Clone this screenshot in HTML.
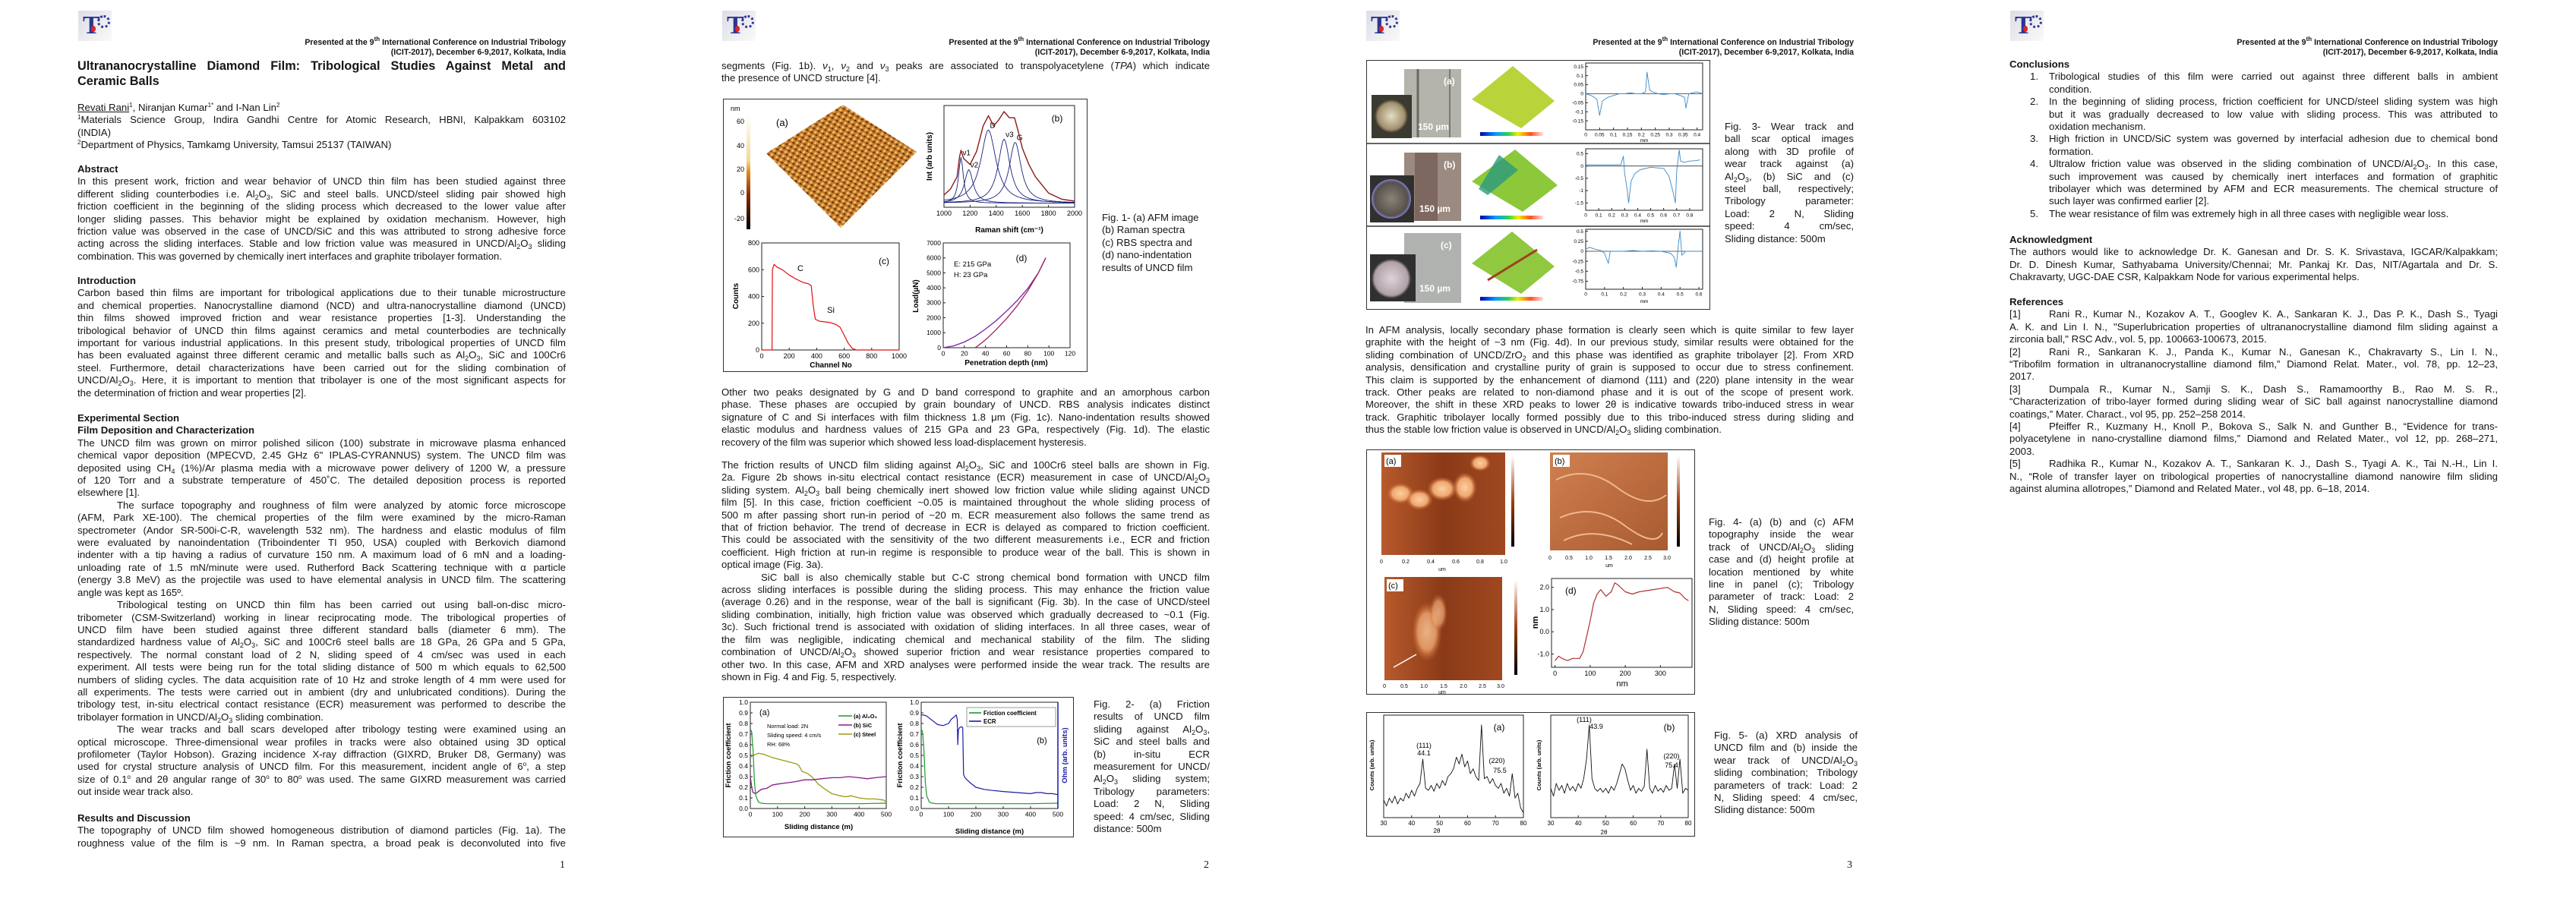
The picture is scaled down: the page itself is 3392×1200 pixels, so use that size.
<!DOCTYPE html>
<html><head><meta charset="utf-8">
<style>
html,body{margin:0;padding:0;background:#fff;}
body{width:3392px;height:1200px;position:relative;overflow:hidden;font-family:"Liberation Sans",Arial,sans-serif;color:#151515;}
.b{position:absolute;font-size:13.2px;line-height:16.4px;}
.l{display:block;white-space:nowrap;text-align:justify;text-align-last:justify;}
.e{text-align-last:left;}
.in{padding-left:52px;}
.h{font-weight:bold;}
.s{font-size:9px;line-height:0;vertical-align:-3px;}
.u{font-size:8px;line-height:0;vertical-align:5px;}
.hdr{position:absolute;width:380px;text-align:right;font-weight:bold;font-size:10.6px;line-height:13px;}
.title{font-weight:bold;font-size:16.3px;line-height:20px;}
.logo{position:absolute;width:44px;height:40px;background:linear-gradient(135deg,#dcdde6,#fafafa);}
.logo .t{position:absolute;left:6px;top:2px;font:bold 34px "Liberation Serif",serif;color:#2b3592;line-height:36px;}
.logo .g{position:absolute;left:25px;top:6px;width:11px;height:11px;border:3px dotted #2b3592;border-radius:50%;}
.logo .d{position:absolute;left:17px;top:20px;width:6px;height:8px;background:#d8262c;border-radius:50% 50% 50% 50%;}
.pn{position:absolute;font:14px "Liberation Serif",serif;}
svg{position:absolute;overflow:visible;}
svg text{font-family:"Liberation Sans",Arial,sans-serif;}
.fbox{position:absolute;border:1.3px solid #333;box-sizing:border-box;}
.ri{display:flex;white-space:nowrap;}
.ri span.n{width:52px;flex:none;}
.ri span.x{flex:1;text-align:justify;text-align-last:justify;}
</style></head>
<body>

<!-- ================= PAGE 1 ================= -->
<div>
<div class="logo" style="left:103px;top:14px"><span class="t">T</span><span class="g"></span><span class="d"></span></div>
<div class="hdr" style="left:365px;top:50px">Presented at the 9<span class="u">th</span> International Conference on Industrial Tribology<br>(ICIT-2017), December 6-9,2017, Kolkata, India</div>
<div class="b title" style="left:102px;top:77px;width:643px"><span class="l">Ultrananocrystalline Diamond Film: Tribological Studies Against Metal and</span><span class="l e">Ceramic Balls</span></div>
<div class="b" style="left:102px;top:134px;width:643px">
<span class="l e"><u>Revati Rani</u><span class="u">1</span>, Niranjan Kumar<span class="u">1*</span> and I-Nan Lin<span class="u">2</span></span>
<span class="l"><span class="u">1</span>Materials Science Group, Indira Gandhi Centre for Atomic Research, HBNI, Kalpakkam 603102</span>
<span class="l e">(INDIA)</span>
<span class="l e"><span class="u">2</span>Department of Physics, Tamkamg University, Tamsui 25137 (TAIWAN)</span></div>
<div class="b" style="left:102px;top:215px;width:643px">
<span class="l e h">Abstract</span>
<span class="l">In this present work, friction and wear behavior of UNCD thin film has been studied against three</span>
<span class="l">different sliding counterbodies i.e. Al<span class="s">2</span>O<span class="s">3</span>, SiC and steel balls. UNCD/steel sliding pair showed high</span>
<span class="l">friction coefficient in the beginning of the sliding process which decreased to the lower value after</span>
<span class="l">longer sliding passes. This behavior might be explained by oxidation mechanism. However, high</span>
<span class="l">friction value was observed in the case of UNCD/SiC and this was attributed to strong adhesive force</span>
<span class="l">acting across the sliding interfaces. Stable and low friction value was measured in UNCD/Al<span class="s">2</span>O<span class="s">3</span> sliding</span>
<span class="l e">combination. This was governed by chemically inert interfaces and graphite tribolayer formation.</span></div>
<div class="b" style="left:102px;top:362px;width:643px">
<span class="l e h">Introduction</span>
<span class="l">Carbon based thin films are important for tribological applications due to their tunable microstructure</span>
<span class="l">and chemical properties. Nanocrystalline diamond (NCD) and ultra-nanocrystalline diamond (UNCD)</span>
<span class="l">thin films showed improved friction and wear resistance properties [1-3]. Understanding the</span>
<span class="l">tribological behavior of UNCD thin films against ceramics and metal counterbodies are technically</span>
<span class="l">important for various industrial applications. In this present study, tribological properties of UNCD film</span>
<span class="l">has been evaluated against three different ceramic and metallic balls such as Al<span class="s">2</span>O<span class="s">3</span>, SiC and 100Cr6</span>
<span class="l">steel. Furthermore, detail characterizations have been carried out for the sliding combination of</span>
<span class="l">UNCD/Al<span class="s">2</span>O<span class="s">3</span>. Here, it is important to mention that tribolayer is one of the most significant aspects for</span>
<span class="l e">the determination of friction and wear properties [2].</span></div>
<div class="b" style="left:102px;top:543px;width:643px">
<span class="l e h">Experimental Section</span>
<span class="l e h">Film Deposition and Characterization</span>
<span class="l">The UNCD film was grown on mirror polished silicon (100) substrate in microwave plasma enhanced</span>
<span class="l">chemical vapor deposition (MPECVD, 2.45 GHz 6" IPLAS-CYRANNUS) system. The UNCD film was</span>
<span class="l">deposited using CH<span class="s">4</span> (1%)/Ar plasma media with a microwave power delivery of 1200 W, a pressure</span>
<span class="l">of 120 Torr and a substrate temperature of 450˚C. The detailed deposition process is reported</span>
<span class="l e">elsewhere [1].</span>
<span class="l in">The surface topography and roughness of film were analyzed by atomic force microscope</span>
<span class="l">(AFM, Park XE-100). The chemical properties of the film were examined by the micro-Raman</span>
<span class="l">spectrometer (Andor SR-500i-C-R, wavelength 532 nm). The hardness and elastic modulus of film</span>
<span class="l">were evaluated by nanoindentation (Triboindenter TI 950, USA) coupled with Berkovich diamond</span>
<span class="l">indenter with a tip having a radius of curvature 150 nm. A maximum load of 6 mN and a loading-</span>
<span class="l">unloading rate of 1.5 mN/minute were used. Rutherford Back Scattering technique with α particle</span>
<span class="l">(energy 3.8 MeV) as the projectile was used to have elemental analysis in UNCD film. The scattering</span>
<span class="l e">angle was kept as 165º.</span>
<span class="l in">Tribological testing on UNCD thin film has been carried out using ball-on-disc micro-</span>
<span class="l">tribometer (CSM-Switzerland) working in linear reciprocating mode. The tribological properties of</span>
<span class="l">UNCD film have been studied against three different standard balls (diameter 6 mm). The</span>
<span class="l">standardized hardness value of Al<span class="s">2</span>O<span class="s">3</span>, SiC and 100Cr6 steel balls are 18 GPa, 26 GPa and 5 GPa,</span>
<span class="l">respectively. The normal constant load of 2 N, sliding speed of 4 cm/sec was used in each</span>
<span class="l">experiment. All tests were being run for the total sliding distance of 500 m which equals to 62,500</span>
<span class="l">numbers of sliding cycles. The data acquisition rate of 10 Hz and stroke length of 4 mm were used for</span>
<span class="l">all experiments. The tests were carried out in ambient (dry and unlubricated conditions). During the</span>
<span class="l">tribology test, in-situ electrical contact resistance (ECR) measurement was performed to describe the</span>
<span class="l e">tribolayer formation in UNCD/Al<span class="s">2</span>O<span class="s">3</span> sliding combination.</span>
<span class="l in">The wear tracks and ball scars developed after tribology testing were examined using an</span>
<span class="l">optical microscope. Three-dimensional wear profiles in tracks were also obtained using 3D optical</span>
<span class="l">profilometer (Taylor Hobson). Grazing incidence X-ray diffraction (GIXRD, Bruker D8, Germany) was</span>
<span class="l">used for crystal structure analysis of UNCD film. For this measurement, incident angle of 6<span class="u">o</span>, a step</span>
<span class="l">size of 0.1<span class="u">o</span> and 2θ angular range of 30<span class="u">o</span> to 80<span class="u">o</span> was used. The same GIXRD measurement was carried</span>
<span class="l e">out inside wear track also.</span></div>
<div class="b" style="left:102px;top:1070px;width:643px">
<span class="l e h">Results and Discussion</span>
<span class="l">The topography of UNCD film showed homogeneous distribution of diamond particles (Fig. 1a). The</span>
<span class="l">roughness value of the film is ~9 nm. In Raman spectra, a broad peak is deconvoluted into five</span></div>
<div class="pn" style="left:737px;top:1132px">1</div>
</div>

<!-- ================= PAGE 2 ================= -->
<div>
<div class="logo" style="left:951px;top:14px"><span class="t">T</span><span class="g"></span><span class="d"></span></div>
<div class="hdr" style="left:1213px;top:50px">Presented at the 9<span class="u">th</span> International Conference on Industrial Tribology<br>(ICIT-2017), December 6-9,2017, Kolkata, India</div>
<div class="b" style="left:950px;top:79px;width:643px">
<span class="l">segments (Fig. 1b). <i>ν</i><span class="s">1</span>, <i>ν</i><span class="s">2</span> and <i>ν</i><span class="s">3</span> peaks are associated to transpolyacetylene (<i>TPA</i>) which indicate</span>
<span class="l e">the presence of UNCD structure [4].</span></div>
<div class="fbox" style="left:952px;top:130px;width:480px;height:360px"></div>
<svg id="fig1" style="left:952px;top:130px" width="480" height="360">
 <defs>
  <linearGradient id="afmbar" x1="0" y1="1" x2="0" y2="0"><stop offset="0" stop-color="#000"/><stop offset="0.3" stop-color="#8a2a00"/><stop offset="0.5" stop-color="#e08a20"/><stop offset="0.6" stop-color="#f5d890"/><stop offset="1" stop-color="#fff"/></linearGradient>
  <pattern id="afmtex" width="7" height="6" patternUnits="userSpaceOnUse" patternTransform="rotate(30)"><rect width="7" height="6" fill="#c27a2a"/><rect width="3" height="3" fill="#f0c070"/><rect x="3" y="3" width="3" height="2" fill="#6a3008"/></pattern>
 </defs>
 <text x="10" y="16" font-size="9">nm</text>
 <rect x="31" y="22" width="5" height="150" fill="url(#afmbar)"/>
 <g font-size="9" text-anchor="end"><text x="28" y="33">60</text><text x="28" y="65">40</text><text x="28" y="96">20</text><text x="28" y="127">0</text><text x="28" y="161">-20</text></g>
 <polygon points="158,8 255,70 155,170 57,72" fill="url(#afmtex)"/>
 <text x="70" y="36" font-size="13">(a)</text>
</svg>
<div class="b" style="left:1451px;top:279px;width:145px">
<span class="l e">Fig. 1- (a) AFM image</span><span class="l e">(b) Raman spectra</span><span class="l e">(c) RBS spectra and</span><span class="l e">(d) nano-indentation</span><span class="l e">results of UNCD film</span></div>
<div class="b" style="left:950px;top:509px;width:643px">
<span class="l">Other two peaks designated by G and D band correspond to graphite and an amorphous carbon</span>
<span class="l">phase. These phases are occupied by grain boundary of UNCD. RBS analysis indicates distinct</span>
<span class="l">signature of C and Si interfaces with film thickness 1.8 μm (Fig. 1c). Nano-indentation results showed</span>
<span class="l">elastic modulus and hardness values of 215 GPa and 23 GPa, respectively (Fig. 1d). The elastic</span>
<span class="l e">recovery of the film was superior which showed less load-displacement hysteresis.</span></div>
<div class="b" style="left:950px;top:605px;width:643px">
<span class="l">The friction results of UNCD film sliding against Al<span class="s">2</span>O<span class="s">3</span>, SiC and 100Cr6 steel balls are shown in Fig.</span>
<span class="l">2a. Figure 2b shows in-situ electrical contact resistance (ECR) measurement in case of UNCD/Al<span class="s">2</span>O<span class="s">3</span></span>
<span class="l">sliding system. Al<span class="s">2</span>O<span class="s">3</span> ball being chemically inert showed low friction value while sliding against UNCD</span>
<span class="l">film [5]. In this case, friction coefficient ~0.05 is maintained throughout the whole sliding process of</span>
<span class="l">500 m after passing short run-in period of ~20 m. ECR measurement also follows the same trend as</span>
<span class="l">that of friction behavior. The trend of decrease in ECR is delayed as compared to friction coefficient.</span>
<span class="l">This could be associated with the sensitivity of the two different measurements i.e., ECR and friction</span>
<span class="l">coefficient. High friction at run-in regime is responsible to produce wear of the ball. This is shown in</span>
<span class="l e">optical image (Fig. 3a).</span>
<span class="l in">SiC ball is also chemically stable but C-C strong chemical bond formation with UNCD film</span>
<span class="l">across sliding interfaces is possible during the sliding process. This may enhance the friction value</span>
<span class="l">(average 0.26) and in the response, wear of the ball is significant (Fig. 3b). In the case of UNCD/steel</span>
<span class="l">sliding combination, initially, high friction value was observed which gradually decreased to ~0.1 (Fig.</span>
<span class="l">3c). Such frictional trend is associated with oxidation of sliding interfaces. In all three cases, wear of</span>
<span class="l">the film was negligible, indicating chemical and mechanical stability of the film. The sliding</span>
<span class="l">combination of UNCD/Al<span class="s">2</span>O<span class="s">3</span> showed superior friction and wear resistance properties compared to</span>
<span class="l">other two. In this case, AFM and XRD analyses were performed inside the wear track. The results are</span>
<span class="l e">shown in Fig. 4 and Fig. 5, respectively.</span></div>
<div class="fbox" style="left:952px;top:918px;width:462px;height:185px"></div>
<svg id="fig2" style="left:952px;top:918px" width="462" height="185"></svg>
<div class="b" style="left:1440px;top:920px;width:153px">
<span class="l">Fig. 2- (a) Friction</span><span class="l">results of UNCD film</span><span class="l">sliding against Al<span class="s">2</span>O<span class="s">3</span>,</span><span class="l">SiC and steel balls and</span><span class="l">(b) in-situ ECR</span><span class="l">measurement for UNCD/</span><span class="l">Al<span class="s">2</span>O<span class="s">3</span> sliding system;</span><span class="l">Tribology parameters:</span><span class="l">Load: 2 N, Sliding</span><span class="l">speed: 4 cm/sec, Sliding</span><span class="l e">distance: 500m</span></div>
<div class="pn" style="left:1585px;top:1132px">2</div>
</div>

<!-- ================= PAGE 3 ================= -->
<div>
<div class="logo" style="left:1799px;top:14px"><span class="t">T</span><span class="g"></span><span class="d"></span></div>
<div class="hdr" style="left:2061px;top:50px">Presented at the 9<span class="u">th</span> International Conference on Industrial Tribology<br>(ICIT-2017), December 6-9,2017, Kolkata, India</div>
<div class="fbox" style="left:1799px;top:79px;width:453px;height:329px"></div>
<svg id="fig3" style="left:1799px;top:79px" width="453" height="329">
 <defs>
  <linearGradient id="rainbow" x1="0" x2="1"><stop offset="0" stop-color="#0000b0"/><stop offset="0.25" stop-color="#00a0ff"/><stop offset="0.45" stop-color="#30d050"/><stop offset="0.6" stop-color="#f0f000"/><stop offset="0.8" stop-color="#ff5020"/><stop offset="1" stop-color="#ffe0e0"/></linearGradient>
  <radialGradient id="balla"><stop offset="0" stop-color="#e8dcc0"/><stop offset="0.8" stop-color="#a09070"/><stop offset="1" stop-color="#403828"/></radialGradient>
  <radialGradient id="ballb"><stop offset="0" stop-color="#8a8478"/><stop offset="0.85" stop-color="#55504a"/><stop offset="1" stop-color="#8080d0"/></radialGradient>
  <radialGradient id="ballc"><stop offset="0" stop-color="#e0d4d8"/><stop offset="0.85" stop-color="#b0a0a8"/><stop offset="1" stop-color="#303030"/></radialGradient>
 </defs>
 <g>
  <rect x="50" y="12" width="75" height="90" fill="#b4b3ac"/><line x1="68" y1="12" x2="68" y2="102" stroke="#6a6a60" stroke-width="3"/><line x1="110" y1="12" x2="110" y2="102" stroke="#7a7a70" stroke-width="2"/>
  <rect x="7" y="46" width="53" height="57" fill="#3a3a30"/><circle cx="33" cy="74" r="22" fill="url(#balla)"/>
  <text x="102" y="32" font-size="12" font-weight="bold" fill="#fff">(a)</text><text x="68" y="92" font-size="12" font-weight="bold" fill="#fff">150 µm</text>
  <polygon points="193,8 248,54 204,90 139,52" fill="#b8d43a"/>
  <rect x="150" y="95" width="83" height="5" fill="url(#rainbow)"/>
 </g>
 <line x1="0" y1="110" x2="453" y2="110" stroke="#333" stroke-width="1.5"/>
 <g>
  <rect x="50" y="122" width="75" height="90" fill="#9a8a80"/><rect x="64" y="122" width="30" height="90" fill="#6a5048" opacity="0.6"/>
  <rect x="5" y="152" width="58" height="62" fill="#303030"/><circle cx="33" cy="183" r="26" fill="url(#ballb)"/>
  <text x="102" y="142" font-size="12" font-weight="bold" fill="#fff">(b)</text><text x="70" y="200" font-size="12" font-weight="bold" fill="#fff">150 µm</text>
  <polygon points="196,118 252,165 206,200 139,160" fill="#8cc83a"/><polygon points="175,125 200,145 160,178 148,170" fill="#2a9a80" opacity="0.8"/>
  <rect x="150" y="205" width="83" height="5" fill="url(#rainbow)"/>
 </g>
 <line x1="0" y1="219" x2="453" y2="219" stroke="#333" stroke-width="1.5"/>
 <g>
  <rect x="50" y="228" width="75" height="92" fill="#b0b2b0"/>
  <rect x="5" y="256" width="60" height="62" fill="#303030"/><circle cx="33" cy="288" r="26" fill="url(#ballc)"/>
  <text x="98" y="248" font-size="12" font-weight="bold" fill="#fff">(c)</text><text x="70" y="305" font-size="12" font-weight="bold" fill="#fff">150 µm</text>
  <polygon points="192,226 248,272 204,308 139,268" fill="#90c840"/><line x1="160" y1="290" x2="225" y2="250" stroke="#a04020" stroke-width="3"/>
  <rect x="150" y="312" width="83" height="5" fill="url(#rainbow)"/>
 </g>
</svg>
<div class="b" style="left:2271px;top:159px;width:170px">
<span class="l">Fig. 3- Wear track and</span><span class="l">ball scar optical images</span><span class="l">along with 3D profile of</span><span class="l">wear track against (a)</span><span class="l">Al<span class="s">2</span>O<span class="s">3</span>, (b) SiC and (c)</span><span class="l">steel ball, respectively;</span><span class="l">Tribology parameter:</span><span class="l">Load: 2 N, Sliding</span><span class="l">speed: 4 cm/sec,</span><span class="l e">Sliding distance: 500m</span></div>
<div class="b" style="left:1798px;top:427px;width:643px">
<span class="l">In AFM analysis, locally secondary phase formation is clearly seen which is quite similar to few layer</span>
<span class="l">graphite with the height of ~3 nm (Fig. 4d). In our previous study, similar results were obtained for the</span>
<span class="l">sliding combination of UNCD/ZrO<span class="s">2</span> and this phase was identified as graphite tribolayer [2]. From XRD</span>
<span class="l">analysis, densification and crystalline purity of grain is supposed to occur due to stress confinement.</span>
<span class="l">This claim is supported by the enhancement of diamond (111) and (220) plane intensity in the wear</span>
<span class="l">track. Other peaks are related to non-diamond phase and it is out of the scope of present work.</span>
<span class="l">Moreover, the shift in these XRD peaks to lower 2θ is indicative towards tribo-induced stress in wear</span>
<span class="l">track. Graphitic tribolayer locally formed possibly due to this tribo-induced stress during sliding and</span>
<span class="l e">thus the stable low friction value is observed in UNCD/Al<span class="s">2</span>O<span class="s">3</span> sliding combination.</span></div>
<div class="fbox" style="left:1799px;top:592px;width:433px;height:323px"></div>
<svg id="fig4" style="left:1799px;top:592px" width="433" height="323">
 <defs>
  <radialGradient id="blob"><stop offset="0" stop-color="#fad0a0"/><stop offset="0.6" stop-color="#f0a870"/><stop offset="1" stop-color="#c06030" stop-opacity="0"/></radialGradient>
  <linearGradient id="brownbar" x1="0" y1="1" x2="0" y2="0"><stop offset="0" stop-color="#000"/><stop offset="0.5" stop-color="#a04010"/><stop offset="1" stop-color="#fff"/></linearGradient>
  <linearGradient id="brn1" x1="0" x2="1"><stop offset="0" stop-color="#b85a2c"/><stop offset="0.5" stop-color="#8a3a18"/><stop offset="1" stop-color="#a04820"/></linearGradient>
  <linearGradient id="brn2" x1="0" x2="1" y1="0" y2="1"><stop offset="0" stop-color="#d08050"/><stop offset="1" stop-color="#a85a30"/></linearGradient>
 </defs>
 <g>
  <rect x="20" y="4" width="163" height="135" fill="url(#brn1)"/>
  <ellipse cx="45" cy="58" rx="18" ry="14" fill="url(#blob)"/><ellipse cx="70" cy="66" rx="18" ry="14" fill="url(#blob)"/><ellipse cx="100" cy="52" rx="20" ry="16" fill="url(#blob)"/><ellipse cx="130" cy="50" rx="16" ry="20" fill="url(#blob)"/><ellipse cx="150" cy="18" rx="14" ry="11" fill="url(#blob)"/>
  <rect x="24" y="7" width="22" height="16" fill="#fff"/><text x="26" y="19" font-size="11">(a)</text>
  <rect x="191" y="8" width="4" height="120" fill="url(#brownbar)"/>
  <g font-size="7" text-anchor="middle"><text x="20" y="150">0</text><text x="52" y="150">0.2</text><text x="85" y="150">0.4</text><text x="118" y="150">0.6</text><text x="150" y="150">0.8</text><text x="181" y="150">1.0</text><text x="100" y="160">um</text></g>
 </g>
 <g>
  <rect x="242" y="4" width="155" height="129" fill="url(#brn2)"/>
  <path d="M250 40 Q290 20 330 50 T395 60 M255 90 Q300 70 340 100 T390 110 M260 120 Q300 100 350 125" stroke="#f0b890" stroke-width="2" fill="none"/>
  <rect x="246" y="7" width="22" height="16" fill="#fff"/><text x="248" y="19" font-size="11">(b)</text>
  <rect x="409" y="8" width="4" height="120" fill="url(#brownbar)"/>
  <g font-size="7" text-anchor="middle"><text x="242" y="145">0</text><text x="267" y="145">0.5</text><text x="293" y="145">1.0</text><text x="319" y="145">1.5</text><text x="345" y="145">2.0</text><text x="371" y="145">2.5</text><text x="396" y="145">3.0</text><text x="320" y="155">um</text></g>
 </g>
 <g>
  <rect x="24" y="168" width="155" height="136" fill="url(#brn1)"/>
  <ellipse cx="80" cy="240" rx="20" ry="40" fill="url(#blob)" opacity="0.8"/><ellipse cx="95" cy="215" rx="12" ry="25" fill="url(#blob)" opacity="0.7"/>
  <line x1="36" y1="287" x2="66" y2="270" stroke="#fff" stroke-width="1.5"/>
  <rect x="27" y="171" width="22" height="16" fill="#fff"/><text x="29" y="183" font-size="11">(c)</text>
  <rect x="195" y="172" width="4" height="125" fill="url(#brownbar)"/>
  <g font-size="7" text-anchor="middle"><text x="24" y="314">0</text><text x="50" y="314">0.5</text><text x="76" y="314">1.0</text><text x="102" y="314">1.5</text><text x="128" y="314">2.0</text><text x="153" y="314">2.5</text><text x="177" y="314">3.0</text><text x="100" y="322">um</text></g>
 </g>
</svg>
<div class="b" style="left:2250px;top:680px;width:191px">
<span class="l">Fig. 4- (a) (b) and (c) AFM</span><span class="l">topography inside the wear</span><span class="l">track of UNCD/Al<span class="s">2</span>O<span class="s">3</span> sliding</span><span class="l">case and (d) height profile at</span><span class="l">location mentioned by white</span><span class="l">line in panel (c); Tribology</span><span class="l">parameter of track: Load: 2</span><span class="l">N, Sliding speed: 4 cm/sec,</span><span class="l e">Sliding distance: 500m</span></div>
<div class="fbox" style="left:1799px;top:938px;width:433px;height:164px"></div>
<svg id="fig5" style="left:1799px;top:938px" width="433" height="164"></svg>
<div class="b" style="left:2257px;top:961px;width:189px">
<span class="l">Fig. 5- (a) XRD analysis of</span><span class="l">UNCD film and (b) inside the</span><span class="l">wear track of UNCD/Al<span class="s">2</span>O<span class="s">3</span></span><span class="l">sliding combination; Tribology</span><span class="l">parameters of track: Load: 2</span><span class="l">N, Sliding speed: 4 cm/sec,</span><span class="l e">Sliding distance: 500m</span></div>
<div class="pn" style="left:2432px;top:1132px">3</div>
</div>

<!-- ================= PAGE 4 ================= -->
<div>
<div class="logo" style="left:2647px;top:14px"><span class="t">T</span><span class="g"></span><span class="d"></span></div>
<div class="hdr" style="left:2909px;top:50px">Presented at the 9<span class="u">th</span> International Conference on Industrial Tribology<br>(ICIT-2017), December 6-9,2017, Kolkata, India</div>
<div class="b" style="left:2646px;top:77px;width:643px">
<span class="l e h">Conclusions</span>
<div style="position:relative;padding-left:52px">
<span style="position:absolute;left:27px">1.</span><span class="l">Tribological studies of this film were carried out against three different balls in ambient</span><span class="l e">condition.</span>
<span style="position:absolute;left:27px;top:32.8px">2.</span><span class="l">In the beginning of sliding process, friction coefficient for UNCD/steel sliding system was high</span><span class="l">but it was gradually decreased to low value with sliding process. This was attributed to</span><span class="l e">oxidation mechanism.</span>
<span style="position:absolute;left:27px;top:82px">3.</span><span class="l">High friction in UNCD/SiC system was governed by interfacial adhesion due to chemical bond</span><span class="l e">formation.</span>
<span style="position:absolute;left:27px;top:114.8px">4.</span><span class="l">Ultralow friction value was observed in the sliding combination of UNCD/Al<span class="s">2</span>O<span class="s">3</span>. In this case,</span><span class="l">such improvement was caused by chemically inert interfaces and formation of graphitic</span><span class="l">tribolayer which was determined by AFM and ECR measurements. The chemical structure of</span><span class="l e">such layer was confirmed earlier [2].</span>
<span style="position:absolute;left:27px;top:180.4px">5.</span><span class="l e">The wear resistance of film was extremely high in all three cases with negligible wear loss.</span>
</div></div>
<div class="b" style="left:2646px;top:308px;width:643px">
<span class="l e h">Acknowledgment</span>
<span class="l">The authors would like to acknowledge Dr. K. Ganesan and Dr. S. K. Srivastava, IGCAR/Kalpakkam;</span>
<span class="l">Dr. D. Dinesh Kumar, Sathyabama University/Chennai; Mr. Pankaj Kr. Das, NIT/Agartala and Dr. S.</span>
<span class="l e">Chakravarty, UGC-DAE CSR, Kalpakkam Node for various experimental helps.</span></div>
<div class="b" style="left:2646px;top:390px;width:643px">
<span class="l e h">References</span>
<div class="ri"><span class="n">[1]</span><span class="x">Rani R., Kumar N., Kozakov A. T., Googlev K. A., Sankaran K. J., Das P. K., Dash S., Tyagi</span></div>
<span class="l">A. K. and Lin I. N., "Superlubrication properties of ultrananocrystalline diamond film sliding against a</span>
<span class="l e">zirconia ball," RSC Adv., vol. 5, pp. 100663-100673, 2015.</span>
<div class="ri"><span class="n">[2]</span><span class="x">Rani R., Sankaran K. J., Panda K., Kumar N., Ganesan K., Chakravarty S., Lin I. N.,</span></div>
<span class="l">“Tribofilm formation in ultrananocrystalline diamond film,” Diamond Relat. Mater., vol. 78, pp. 12–23,</span>
<span class="l e">2017.</span>
<div class="ri"><span class="n">[3]</span><span class="x">Dumpala R., Kumar N., Samji S. K., Dash S., Ramamoorthy B., Rao M. S. R.,</span></div>
<span class="l">“Characterization of tribo-layer formed during sliding wear of SiC ball against nanocrystalline diamond</span>
<span class="l e">coatings,” Mater. Charact., vol 95, pp. 252–258 2014.</span>
<div class="ri"><span class="n">[4]</span><span class="x">Pfeiffer R., Kuzmany H., Knoll P., Bokova S., Salk N. and Gunther B., “Evidence for trans-</span></div>
<span class="l">polyacetylene in nano-crystalline diamond films,” Diamond and Related Mater., vol 12, pp. 268–271,</span>
<span class="l e">2003.</span>
<div class="ri"><span class="n">[5]</span><span class="x">Radhika R., Kumar N., Kozakov A. T., Sankaran K. J., Dash S., Tyagi A. K., Tai N.-H., Lin I.</span></div>
<span class="l">N., “Role of transfer layer on tribological properties of nanocrystalline diamond nanowire film sliding</span>
<span class="l e">against alumina allotropes,” Diamond and Related Mater., vol 48, pp. 6–18, 2014.</span></div>
</div>

<script>
// ---------- chart data ----------
// Fig 1(b) Raman
const ramanShift = [1000,1050,1100,1120,1130,1150,1200,1250,1300,1340,1380,1420,1460,1500,1540,1570,1600,1650,1700,1800,1900,2000];
const ramanIntensity = [0.12,0.18,0.3,0.5,0.56,0.48,0.42,0.55,0.8,0.9,0.8,0.86,0.94,0.88,0.88,0.74,0.58,0.42,0.3,0.14,0.08,0.06];
const ramanPeakCenter = [1130,1190,1340,1460,1545];
const ramanPeakHeight = [0.45,0.33,0.72,0.63,0.6];
const ramanPeakWidth = [22,40,70,55,55];
const ramanPeakLabels = ['ν1','ν2','D','ν3','G'];
const ramanTicks = [1000,1200,1400,1600,1800,2000];
// Fig 1(c) RBS
const rbsChannel = [0,75,78,90,110,150,200,250,300,340,360,375,390,420,460,500,540,570,600,630,660,690,1000];
const rbsCounts = [0,0,600,640,620,600,560,530,505,495,480,330,230,215,210,205,190,170,110,50,10,0,0];
const rbsXTicks = [0,200,400,600,800,1000];
const rbsYTicks = [0,200,400,600,800];
// Fig 1(d) nano-indentation
const loadDepth = [0,10,20,30,40,50,60,70,80,90,97];
const loadValue = [0,120,380,750,1250,1800,2450,3150,3950,5000,6000];
const unloadDepth = [97,90,80,70,60,50,42,36,32,30];
const unloadValue = [6000,5000,3800,2800,1950,1200,650,300,80,0];
const indentXTicks = [0,20,40,60,80,100,120];
const indentYTicks = [0,1000,2000,3000,4000,5000,6000,7000];
// Fig 2 friction / ECR
const slideDist = [0,5,10,15,20,30,40,60,100,150,200,250,300,350,400,450,500];
const fricAl2O3 = [0.75,0.72,0.55,0.25,0.12,0.06,0.05,0.045,0.045,0.045,0.045,0.045,0.045,0.045,0.045,0.048,0.05];
const sicDist = [0,5,10,20,30,40,60,80,100,130,160,200,230,260,300,330,360,400,430,460,500];
const fricSiC = [0.3,0.2,0.15,0.14,0.16,0.18,0.19,0.22,0.23,0.24,0.25,0.27,0.27,0.28,0.29,0.29,0.3,0.29,0.28,0.29,0.3];
const steelDist = [0,10,30,50,80,110,140,170,180,190,210,230,250,270,300,330,350,370,400,430,460,490,500];
const fricSteel = [0.48,0.5,0.52,0.51,0.48,0.46,0.44,0.42,0.4,0.35,0.33,0.29,0.23,0.19,0.14,0.12,0.11,0.12,0.1,0.09,0.09,0.08,0.06];
const ecrDist = [0,10,20,40,60,80,100,110,120,128,132,134,136,140,148,152,155,160,180,200,230,260,300,350,400,420,440,460,480,500];
const ecrValue = [0.88,0.88,0.87,0.83,0.79,0.78,0.8,0.84,0.86,0.88,0.84,0.6,0.74,0.76,0.77,0.76,0.32,0.29,0.24,0.2,0.18,0.17,0.16,0.15,0.14,0.15,0.15,0.14,0.14,0.13];
const fricXTicks = [0,100,200,300,400,500];
const fricYTicks = [0,0.1,0.2,0.3,0.4,0.5,0.6,0.7,0.8,0.9,1.0];
// Fig 3 wear profiles
const profAX = [0,0.02,0.04,0.05,0.06,0.08,0.1,0.12,0.14,0.16,0.18,0.2,0.215,0.22,0.23,0.24,0.26,0.28,0.3,0.32,0.34,0.355,0.36,0.37,0.4,0.42];
const profAY = [0,-0.01,-0.03,-0.12,-0.04,-0.02,-0.01,0,0,0.005,0,0,0.01,0.12,0.02,0.01,0,-0.005,0,0,-0.01,-0.02,-0.08,0,0.01,0];
const profBX = [0,0.1,0.2,0.27,0.29,0.3,0.32,0.33,0.35,0.38,0.42,0.5,0.6,0.64,0.67,0.69,0.7,0.72,0.73,0.76,0.8,0.85,0.88];
const profBY = [0.05,0.05,0.05,0.05,0.4,-0.3,-1.0,-1.5,-0.6,-0.3,-0.15,-0.05,-0.1,-0.4,-1.0,-1.5,-0.2,0.65,0.2,0.15,0.2,0.22,0.25];
const profCX = [0,0.02,0.05,0.08,0.1,0.12,0.13,0.15,0.2,0.25,0.3,0.35,0.4,0.45,0.47,0.48,0.49,0.5,0.51,0.53,0.56,0.6,0.62];
const profCY = [0.05,0.1,0.05,0.02,-0.05,-0.3,0,0,0,0.02,0,0.01,0,-0.05,-0.15,-0.4,0.1,0.5,-0.1,0,0,0,0];
// Fig 4(d) height profile
const heightPos = [0,10,20,35,50,70,80,90,100,110,120,130,145,160,170,180,200,220,240,260,280,300,320,340,355,370,380];
const heightVal = [-1.3,-1.1,-1.2,-1.3,-1.2,-1.2,-0.9,-0.2,0.5,1.3,1.7,1.9,1.6,1.8,2.2,2.1,1.8,1.7,1.8,1.85,1.9,1.95,2.0,1.8,1.75,1.5,1.4];
const heightXTicks = [0,100,200,300];
const heightYTicks = [-1,0,1,2];
// Fig 5 XRD
const twoTheta = [30,31,32,33,34,35,36,37,38,39,40,41,42,43,44,45,46,47,48,49,50,51,52,53,54,55,56,57,58,59,60,61,62,63,64,65,66,67,68,69,70,71,72,73,74,75,76,77,78,79,80];
const xrdFilm = [0.18,0.12,0.2,0.15,0.22,0.14,0.2,0.17,0.25,0.2,0.28,0.22,0.3,0.35,0.6,0.3,0.28,0.33,0.27,0.35,0.3,0.38,0.33,0.42,0.45,0.5,0.62,0.55,0.65,0.52,0.58,0.45,0.5,0.42,0.38,0.95,0.4,0.42,0.35,0.4,0.33,0.3,0.35,0.25,0.3,0.22,0.45,0.2,0.25,0.1,0.05];
const xrdTrack = [0.3,0.22,0.35,0.28,0.33,0.25,0.35,0.28,0.32,0.27,0.35,0.3,0.4,0.6,0.95,0.4,0.3,0.27,0.3,0.26,0.3,0.25,0.32,0.28,0.35,0.45,0.55,0.5,0.38,0.28,0.33,0.25,0.3,0.27,0.32,0.7,0.3,0.25,0.33,0.27,0.3,0.26,0.33,0.28,0.3,0.55,0.3,0.6,0.25,0.3,0.28];
const xrdTicks = [30,40,50,60,70,80];

// ---------- helpers ----------
const NS = 'http://www.w3.org/2000/svg';
function mk(parent, tag) { const e = document.createElementNS(NS, tag); parent.appendChild(e); return e; }
function txt(parent, x, y, s, size, anchor, name) {
  const t = mk(parent, 'text');
  t.setAttribute('x', x); t.setAttribute('y', y); t.setAttribute('font-size', size);
  t.setAttribute('text-anchor', anchor || 'start');
  t.textContent = s;
  
  
  return t;
}
function axes(svg, x0, y0, x1, y1, xd, yd, xt, yt, fs, name, opts) {
  opts = opts || {};
  const sx = v => x0 + (v - xd[0]) / (xd[1] - xd[0]) * (x1 - x0);
  const sy = v => y1 - (v - yd[0]) / (yd[1] - yd[0]) * (y1 - y0);
  const r = mk(svg, 'rect');
  r.setAttribute('x', x0); r.setAttribute('y', y0); r.setAttribute('width', x1 - x0); r.setAttribute('height', y1 - y0);
  r.setAttribute('fill', opts.bg || 'none'); r.setAttribute('stroke', '#222'); r.setAttribute('stroke-width', '1');
  
  
  xt.forEach(v => {
    const l = mk(svg, 'line');
    l.setAttribute('x1', sx(v)); l.setAttribute('x2', sx(v)); l.setAttribute('y1', y1); l.setAttribute('y2', y1 - 3); l.setAttribute('stroke', '#222');
    
    
    txt(svg, sx(v), y1 + fs + 2, opts.xfmt ? opts.xfmt(v) : String(v), fs, 'middle', name + '-x-tick-label');
  });
  yt.forEach(v => {
    const l = mk(svg, 'line');
    l.setAttribute('x1', x0); l.setAttribute('x2', x0 + 3); l.setAttribute('y1', sy(v)); l.setAttribute('y2', sy(v)); l.setAttribute('stroke', '#222');
    
    
    if (!opts.noYLabels) txt(svg, x0 - 3, sy(v) + fs / 3, opts.yfmt ? opts.yfmt(v) : String(v), fs, 'end', name + '-y-tick-label');
  });
  return { sx, sy };
}
function series(svg, ax, xs, ys, color, w, name) {
  const p = mk(svg, 'path');
  p.setAttribute('d', xs.map((x, i) => (i ? 'L' : 'M') + ax.sx(x).toFixed(1) + ' ' + ax.sy(ys[i]).toFixed(1)).join(' '));
  p.setAttribute('fill', 'none'); p.setAttribute('stroke', color); p.setAttribute('stroke-width', w); p.setAttribute('stroke-linejoin', 'round');
  
  
  return p;
}
function ylabel(svg, x, y, s, fs, name, color) {
  const t = txt(svg, x, y, s, fs, 'middle', name);
  t.setAttribute('transform', 'rotate(-90 ' + x + ' ' + y + ')');
  t.setAttribute('font-weight', 'bold');
  if (color) t.setAttribute('fill', color);
}
const fmt1 = v => v.toFixed(1);

// ---------- Figure 1 ----------
const f1 = document.getElementById('fig1');
const axB = axes(f1, 291, 9, 463, 143, [1000, 2000], [0, 1], ramanTicks, [], 9, 'raman');
ramanPeakCenter.forEach((c, k) => {
  const xs = [], ys = [];
  for (let x = 1000; x <= 2000; x += 10) { xs.push(x); ys.push(0.04 + ramanPeakHeight[k] / (1 + Math.pow((x - c) / ramanPeakWidth[k], 2))); }
  series(f1, axB, xs, ys, '#1a237e', 0.9, 'raman-fit-peak');
  txt(f1, axB.sx(c) + 2, axB.sy(ramanPeakHeight[k] + 0.06), ramanPeakLabels[k], 10, 'start', 'raman-peak-label');
});
series(f1, axB, ramanShift, ramanIntensity, '#8b1a1a', 1.4, 'raman-spectrum');
txt(f1, 440, 30, '(b)', 12, 'middle', 'panel-b-label');
txt(f1, 377, 176, 'Raman shift (cm⁻¹)', 10, 'middle', 'raman-x-title').setAttribute('font-weight', 'bold');
ylabel(f1, 275, 76, 'Int (arb units)', 10, 'raman-y-title');

const axC = axes(f1, 51, 190, 232, 331, [0, 1000], [0, 800], rbsXTicks, rbsYTicks, 9, 'rbs');
series(f1, axC, rbsChannel, rbsCounts, '#e01010', 1.2, 'rbs-spectrum');
txt(f1, 212, 218, '(c)', 12, 'middle', 'panel-c-label');
txt(f1, 102, 227, 'C', 11, 'middle', 'rbs-c-label');
txt(f1, 142, 282, 'Si', 11, 'middle', 'rbs-si-label');
txt(f1, 142, 354, 'Channel No', 10, 'middle', 'rbs-x-title').setAttribute('font-weight', 'bold');
ylabel(f1, 20, 260, 'Counts', 10, 'rbs-y-title');

const axD = axes(f1, 290, 190, 457, 328, [0, 120], [0, 7000], indentXTicks, indentYTicks, 8.5, 'indent');
series(f1, axD, loadDepth, loadValue, '#7a1fa0', 1.3, 'loading-curve');
series(f1, axD, unloadDepth, unloadValue, '#a02060', 1.3, 'unloading-curve');
txt(f1, 304, 221, 'E: 215 GPa', 9.5, 'start', 'modulus-label');
txt(f1, 304, 235, 'H: 23 GPa', 9.5, 'start', 'hardness-label');
txt(f1, 393, 214, '(d)', 12, 'middle', 'panel-d-label');
txt(f1, 373, 351, 'Penetration depth (nm)', 10, 'middle', 'indent-x-title').setAttribute('font-weight', 'bold');
ylabel(f1, 257, 260, 'Load(µN)', 10, 'indent-y-title');

// ---------- Figure 2 ----------
const f2 = document.getElementById('fig2');
const axF = axes(f2, 36, 7, 215, 147, [0, 500], [0, 1], fricXTicks, fricYTicks, 8.5, 'friction', { yfmt: fmt1 });
series(f2, axF, steelDist, fricSteel, '#9a9a10', 1.3, 'series-steel');
series(f2, axF, sicDist, fricSiC, '#8a1a8a', 1.3, 'series-sic');
series(f2, axF, slideDist, fricAl2O3, '#1a9a2a', 1.2, 'series-al2o3');
txt(f2, 48, 24, '(a)', 11, 'start', 'panel-a-label');
txt(f2, 58, 41, 'Normal load: 2N', 7.5, 'start', 'test-load-note');
txt(f2, 58, 53, 'Sliding speed: 4 cm/s', 7.5, 'start', 'test-speed-note');
txt(f2, 58, 65, 'RH: 68%', 7.5, 'start', 'test-rh-note');
const legA = [['(a) Al₂O₃', '#1a9a2a'], ['(b) SiC', '#8a1a8a'], ['(c) Steel', '#9a9a10']];
legA.forEach((d, i) => {
  const l = mk(f2, 'line');
  l.setAttribute('x1', 152); l.setAttribute('x2', 170); l.setAttribute('y1', 25 + i * 12); l.setAttribute('y2', 25 + i * 12);
  l.setAttribute('stroke', d[1]); l.setAttribute('stroke-width', 1.6);
  
  
  txt(f2, 172, 28 + i * 12, d[0], 7.5, 'start', 'legend-entry').setAttribute('font-weight', 'bold');
});
txt(f2, 126, 174, 'Sliding distance (m)', 9.5, 'middle', 'friction-x-title').setAttribute('font-weight', 'bold');
ylabel(f2, 10, 77, 'Friction coefficient', 9.5, 'friction-y-title');

const axE = axes(f2, 261, 7, 441, 147, [0, 500], [0, 1], fricXTicks, fricYTicks, 8.5, 'ecr', { yfmt: fmt1 });
series(f2, axE, slideDist, fricAl2O3, '#1a9a2a', 1.2, 'series-friction');
series(f2, axE, ecrDist, ecrValue, '#1a1aa8', 1.2, 'series-ecr');
const rAx = mk(f2, 'line');
rAx.setAttribute('x1', 441); rAx.setAttribute('x2', 441); rAx.setAttribute('y1', 7); rAx.setAttribute('y2', 147); rAx.setAttribute('stroke', '#1a1aa8'); rAx.setAttribute('stroke-width', 1.5);


const lb = mk(f2, 'rect');
lb.setAttribute('x', 321); lb.setAttribute('y', 14); lb.setAttribute('width', 117); lb.setAttribute('height', 25); lb.setAttribute('fill', '#fff'); lb.setAttribute('stroke', '#555'); lb.setAttribute('stroke-width', 0.6);


[['Friction coefficient', '#1a9a2a'], ['ECR', '#1a1aa8']].forEach((d, i) => {
  const l = mk(f2, 'line');
  l.setAttribute('x1', 324); l.setAttribute('x2', 340); l.setAttribute('y1', 21 + i * 11); l.setAttribute('y2', 21 + i * 11);
  l.setAttribute('stroke', d[1]); l.setAttribute('stroke-width', 1.6);
  
  
  txt(f2, 343, 24 + i * 11, d[0], 7.8, 'start', 'legend-entry').setAttribute('font-weight', 'bold');
});
txt(f2, 420, 61, '(b)', 11, 'middle', 'panel-b-label');
txt(f2, 351, 180, 'Sliding distance (m)', 9.5, 'middle', 'ecr-x-title').setAttribute('font-weight', 'bold');
ylabel(f2, 236, 77, 'Friction coefficient', 9.5, 'ecr-y-title');
ylabel(f2, 453, 77, 'Ohm (arb. units)', 9.5, 'ecr-right-title', '#1a1aa8');

// ---------- Figure 3 profiles ----------
const f3 = document.getElementById('fig3');
const gridOpts = { bg: '#fff', noYLabels: false };
const a3 = axes(f3, 289, 4, 443, 92, [0, 0.42], [-0.2, 0.17], [0, 0.05, 0.1, 0.15, 0.2, 0.25, 0.3, 0.35, 0.4], [0.15, 0.1, 0.05, 0, -0.05, -0.1, -0.15], 6.5, 'profile-a', gridOpts);
series(f3, a3, [0, 0.42], [0, 0], '#333', 0.8, 'profile-a-zero');
series(f3, a3, profAX, profAY, '#3a8ac8', 0.9, 'profile-a-line');
txt(f3, 366, 108, 'mm', 6.5, 'middle', 'profile-a-x-title');
const b3 = axes(f3, 289, 117, 443, 198, [0, 0.9], [-1.8, 0.7], [0, 0.1, 0.2, 0.3, 0.4, 0.5, 0.6, 0.7, 0.8], [0.5, 0, -0.5, -1, -1.5], 6.5, 'profile-b', gridOpts);
series(f3, b3, [0, 0.9], [0, 0], '#333', 0.8, 'profile-b-zero');
series(f3, b3, profBX, profBY, '#3a8ac8', 0.9, 'profile-b-line');
txt(f3, 366, 214, 'mm', 6.5, 'middle', 'profile-b-x-title');
const c3 = axes(f3, 289, 223, 443, 302, [0, 0.62], [-0.95, 0.55], [0, 0.1, 0.2, 0.3, 0.4, 0.5, 0.6], [0.5, 0.25, 0, -0.25, -0.5, -0.75], 6.5, 'profile-c', gridOpts);
series(f3, c3, [0, 0.62], [0, 0], '#333', 0.8, 'profile-c-zero');
series(f3, c3, profCX, profCY, '#3a8ac8', 0.9, 'profile-c-line');
txt(f3, 366, 320, 'mm', 6.5, 'middle', 'profile-c-x-title');

// ---------- Figure 4(d) ----------
const f4 = document.getElementById('fig4');
const d4 = axes(f4, 244, 170, 429, 287, [-10, 390], [-1.6, 2.4], heightXTicks, heightYTicks, 9, 'height-profile', { yfmt: fmt1 });
series(f4, d4, heightPos, heightVal, '#b03030', 1.2, 'height-profile-line');
txt(f4, 262, 190, '(d)', 12, 'start', 'panel-d-label');
txt(f4, 337, 312, 'nm', 11, 'middle', 'height-x-title');
ylabel(f4, 226, 228, 'nm', 11, 'height-y-title');

// ---------- Figure 5 ----------
const f5 = document.getElementById('fig5');
const x5a = axes(f5, 23, 4, 207, 139, [30, 80], [0, 1.05], xrdTicks, [], 8, 'xrd-film');
series(f5, x5a, twoTheta, xrdFilm, '#111', 0.9, 'xrd-film-pattern');
txt(f5, 175, 24, '(a)', 12, 'middle', 'panel-a-label');
txt(f5, 76, 47, '(111)', 9, 'middle', 'xrd-peak-111-label');
txt(f5, 76, 57, '44.1', 9, 'middle', 'xrd-peak-111-value');
txt(f5, 172, 67, '(220)', 9, 'middle', 'xrd-peak-220-label');
txt(f5, 176, 80, '75.5', 9, 'middle', 'xrd-peak-220-value');
txt(f5, 93, 159, '2θ', 8, 'middle', 'xrd-film-x-title');
ylabel(f5, 10, 70, 'Counts (arb. units)', 7.5, 'xrd-film-y-title');
const x5b = axes(f5, 243, 4, 424, 139, [30, 80], [0, 1.05], xrdTicks, [], 8, 'xrd-track');
series(f5, x5b, twoTheta, xrdTrack, '#111', 0.9, 'xrd-track-pattern');
txt(f5, 399, 24, '(b)', 12, 'middle', 'panel-b-label');
txt(f5, 287, 13, '(111)', 9, 'middle', 'xrd-peak-111-label');
txt(f5, 303, 22, '43.9', 9, 'middle', 'xrd-peak-111-value');
txt(f5, 402, 61, '(220)', 9, 'middle', 'xrd-peak-220-label');
txt(f5, 402, 73, '75.4', 9, 'middle', 'xrd-peak-220-value');
txt(f5, 313, 161, '2θ', 8, 'middle', 'xrd-track-x-title');
ylabel(f5, 230, 70, 'Counts (arb. units)', 7.5, 'xrd-track-y-title');
</script>
</body></html>
